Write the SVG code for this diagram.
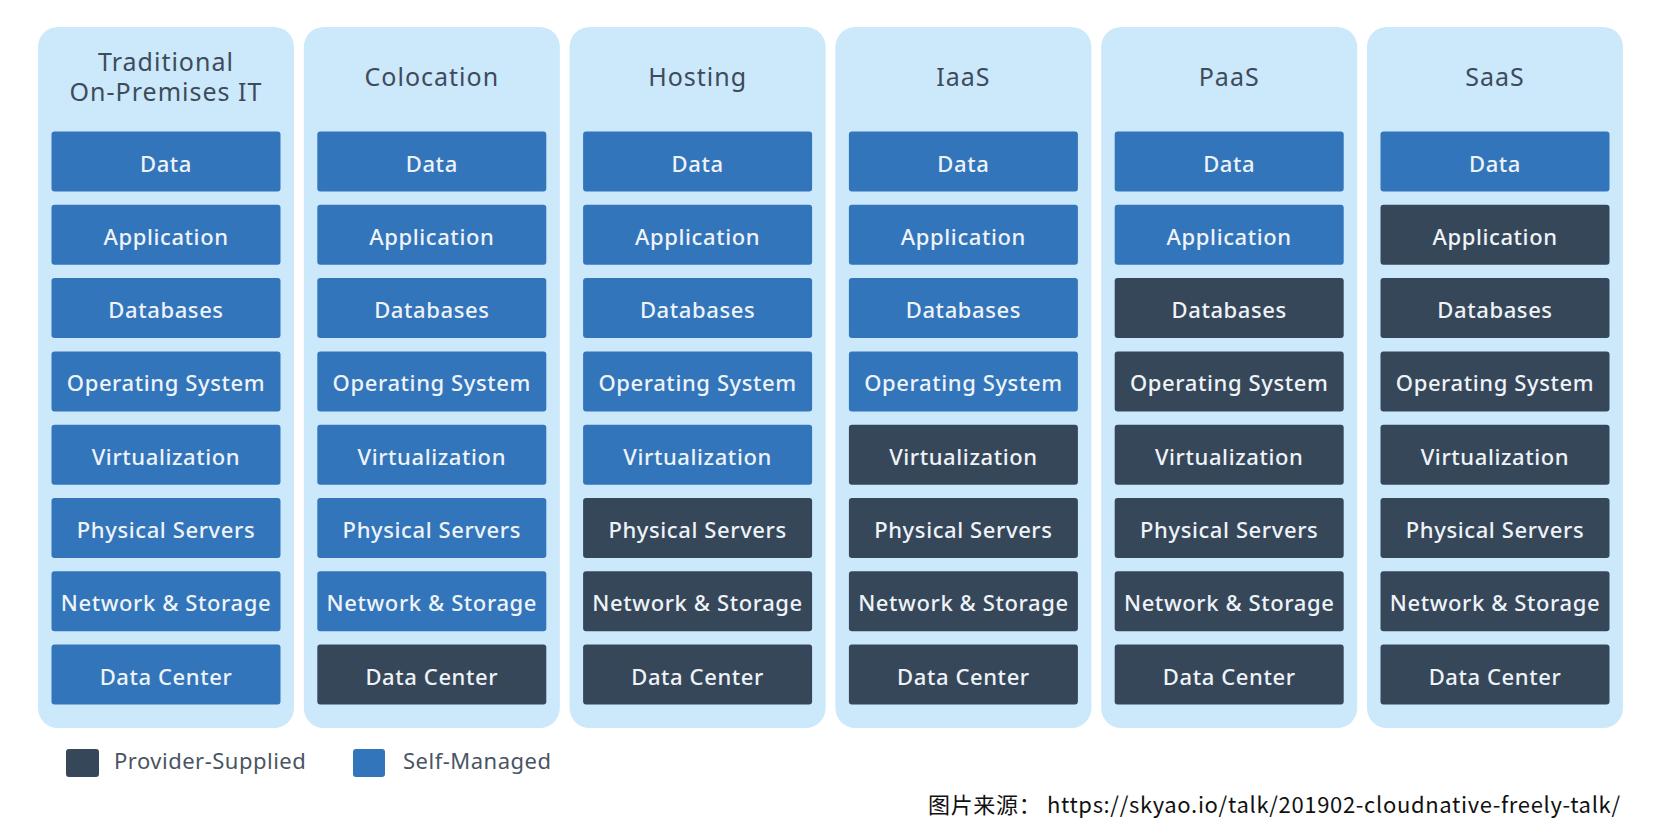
<svg xmlns="http://www.w3.org/2000/svg" width="1660" height="840" viewBox="0 0 1660 840">
<style>
.panel{fill:#cce8fb}
.b{fill:#3375bb}
.d{fill:#37475a}
.title{font-family:"Noto Sans","Liberation Sans",sans-serif;font-size:25px;letter-spacing:1px;fill:#3e4b5b;text-anchor:middle}
.lbl{font-family:"Noto Sans","Liberation Sans",sans-serif;font-size:22px;letter-spacing:0.6px;font-weight:500;fill:#eef3f8;text-anchor:middle}
.leg{font-family:"Noto Sans","Liberation Sans",sans-serif;font-size:22px;letter-spacing:0.5px;fill:#4a5563}
.src{font-family:"Noto Sans CJK SC","Noto Sans",sans-serif;font-size:22px;fill:#111111}
</style>
<defs>
<rect id="box" width="229" height="60" rx="3"/>
</defs>
<rect width="1660" height="840" fill="#ffffff"/>
<g id="connectors"></g>

<g id="col-traditional">
<rect class="panel" x="38" y="27" width="256" height="701" rx="20"/>
<text class="title" x="166" y="71">Traditional</text>
<text class="title" x="166" y="100.5">On-Premises IT</text>
<use href="#box" class="b" x="51.5" y="131.5"/><text class="lbl" x="166" y="171.5">Data</text>
<use href="#box" class="b" x="51.5" y="204.8"/><text class="lbl" x="166" y="244.8">Application</text>
<use href="#box" class="b" x="51.5" y="278.1"/><text class="lbl" x="166" y="318.1">Databases</text>
<use href="#box" class="b" x="51.5" y="351.4"/><text class="lbl" x="166" y="391.4">Operating System</text>
<use href="#box" class="b" x="51.5" y="424.7"/><text class="lbl" x="166" y="464.7">Virtualization</text>
<use href="#box" class="b" x="51.5" y="498"/><text class="lbl" x="166" y="538">Physical Servers</text>
<use href="#box" class="b" x="51.5" y="571.3"/><text class="lbl" x="166" y="611.3">Network &amp; Storage</text>
<use href="#box" class="b" x="51.5" y="644.6"/><text class="lbl" x="166" y="684.6">Data Center</text>
</g>

<g id="col-colocation">
<rect class="panel" x="303.8" y="27" width="256" height="701" rx="20"/>
<text class="title" x="431.8" y="86">Colocation</text>
<use href="#box" class="b" x="317.3" y="131.5"/><text class="lbl" x="431.8" y="171.5">Data</text>
<use href="#box" class="b" x="317.3" y="204.8"/><text class="lbl" x="431.8" y="244.8">Application</text>
<use href="#box" class="b" x="317.3" y="278.1"/><text class="lbl" x="431.8" y="318.1">Databases</text>
<use href="#box" class="b" x="317.3" y="351.4"/><text class="lbl" x="431.8" y="391.4">Operating System</text>
<use href="#box" class="b" x="317.3" y="424.7"/><text class="lbl" x="431.8" y="464.7">Virtualization</text>
<use href="#box" class="b" x="317.3" y="498"/><text class="lbl" x="431.8" y="538">Physical Servers</text>
<use href="#box" class="b" x="317.3" y="571.3"/><text class="lbl" x="431.8" y="611.3">Network &amp; Storage</text>
<use href="#box" class="d" x="317.3" y="644.6"/><text class="lbl" x="431.8" y="684.6">Data Center</text>
</g>

<g id="col-hosting">
<rect class="panel" x="569.6" y="27" width="256" height="701" rx="20"/>
<text class="title" x="697.6" y="86">Hosting</text>
<use href="#box" class="b" x="583.1" y="131.5"/><text class="lbl" x="697.6" y="171.5">Data</text>
<use href="#box" class="b" x="583.1" y="204.8"/><text class="lbl" x="697.6" y="244.8">Application</text>
<use href="#box" class="b" x="583.1" y="278.1"/><text class="lbl" x="697.6" y="318.1">Databases</text>
<use href="#box" class="b" x="583.1" y="351.4"/><text class="lbl" x="697.6" y="391.4">Operating System</text>
<use href="#box" class="b" x="583.1" y="424.7"/><text class="lbl" x="697.6" y="464.7">Virtualization</text>
<use href="#box" class="d" x="583.1" y="498"/><text class="lbl" x="697.6" y="538">Physical Servers</text>
<use href="#box" class="d" x="583.1" y="571.3"/><text class="lbl" x="697.6" y="611.3">Network &amp; Storage</text>
<use href="#box" class="d" x="583.1" y="644.6"/><text class="lbl" x="697.6" y="684.6">Data Center</text>
</g>

<g id="col-iaas">
<rect class="panel" x="835.4" y="27" width="256" height="701" rx="20"/>
<text class="title" x="963.4" y="86">IaaS</text>
<use href="#box" class="b" x="848.9" y="131.5"/><text class="lbl" x="963.4" y="171.5">Data</text>
<use href="#box" class="b" x="848.9" y="204.8"/><text class="lbl" x="963.4" y="244.8">Application</text>
<use href="#box" class="b" x="848.9" y="278.1"/><text class="lbl" x="963.4" y="318.1">Databases</text>
<use href="#box" class="b" x="848.9" y="351.4"/><text class="lbl" x="963.4" y="391.4">Operating System</text>
<use href="#box" class="d" x="848.9" y="424.7"/><text class="lbl" x="963.4" y="464.7">Virtualization</text>
<use href="#box" class="d" x="848.9" y="498"/><text class="lbl" x="963.4" y="538">Physical Servers</text>
<use href="#box" class="d" x="848.9" y="571.3"/><text class="lbl" x="963.4" y="611.3">Network &amp; Storage</text>
<use href="#box" class="d" x="848.9" y="644.6"/><text class="lbl" x="963.4" y="684.6">Data Center</text>
</g>

<g id="col-paas">
<rect class="panel" x="1101.2" y="27" width="256" height="701" rx="20"/>
<text class="title" x="1229.2" y="86">PaaS</text>
<use href="#box" class="b" x="1114.7" y="131.5"/><text class="lbl" x="1229.2" y="171.5">Data</text>
<use href="#box" class="b" x="1114.7" y="204.8"/><text class="lbl" x="1229.2" y="244.8">Application</text>
<use href="#box" class="d" x="1114.7" y="278.1"/><text class="lbl" x="1229.2" y="318.1">Databases</text>
<use href="#box" class="d" x="1114.7" y="351.4"/><text class="lbl" x="1229.2" y="391.4">Operating System</text>
<use href="#box" class="d" x="1114.7" y="424.7"/><text class="lbl" x="1229.2" y="464.7">Virtualization</text>
<use href="#box" class="d" x="1114.7" y="498"/><text class="lbl" x="1229.2" y="538">Physical Servers</text>
<use href="#box" class="d" x="1114.7" y="571.3"/><text class="lbl" x="1229.2" y="611.3">Network &amp; Storage</text>
<use href="#box" class="d" x="1114.7" y="644.6"/><text class="lbl" x="1229.2" y="684.6">Data Center</text>
</g>

<g id="col-saas">
<rect class="panel" x="1367" y="27" width="256" height="701" rx="20"/>
<text class="title" x="1495" y="86">SaaS</text>
<use href="#box" class="b" x="1380.5" y="131.5"/><text class="lbl" x="1495" y="171.5">Data</text>
<use href="#box" class="d" x="1380.5" y="204.8"/><text class="lbl" x="1495" y="244.8">Application</text>
<use href="#box" class="d" x="1380.5" y="278.1"/><text class="lbl" x="1495" y="318.1">Databases</text>
<use href="#box" class="d" x="1380.5" y="351.4"/><text class="lbl" x="1495" y="391.4">Operating System</text>
<use href="#box" class="d" x="1380.5" y="424.7"/><text class="lbl" x="1495" y="464.7">Virtualization</text>
<use href="#box" class="d" x="1380.5" y="498"/><text class="lbl" x="1495" y="538">Physical Servers</text>
<use href="#box" class="d" x="1380.5" y="571.3"/><text class="lbl" x="1495" y="611.3">Network &amp; Storage</text>
<use href="#box" class="d" x="1380.5" y="644.6"/><text class="lbl" x="1495" y="684.6">Data Center</text>
</g>

<g id="legend">
<rect class="d" x="66" y="749" width="33" height="28" rx="3"/>
<text class="leg" x="114" y="769">Provider-Supplied</text>
<rect class="b" x="353" y="749" width="32" height="28" rx="3"/>
<text class="leg" x="403" y="769">Self-Managed</text>
</g>

<g id="source">
<text class="src" x="928" y="813" textLength="692" lengthAdjust="spacing">图片来源： https://skyao.io/talk/201902-cloudnative-freely-talk/</text>
</g>
</svg>
